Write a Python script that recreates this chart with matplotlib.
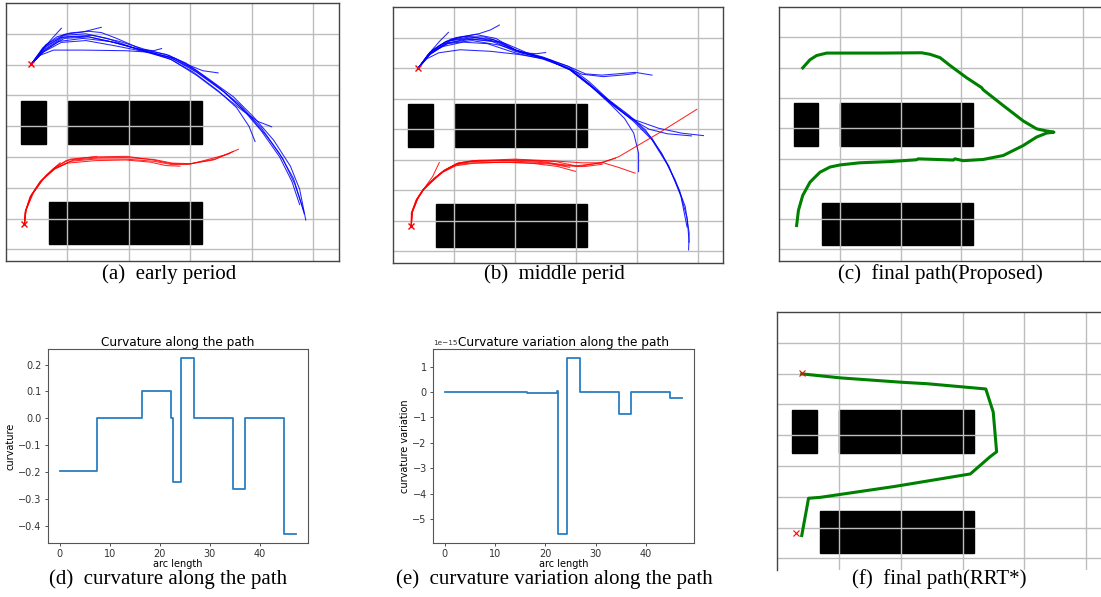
import matplotlib
matplotlib.use("Agg")
import matplotlib.pyplot as plt
from matplotlib.patches import Rectangle

W, H = 1101, 597

# obstacles: (x0, y0, width, height)
obstacles = [(0.49, 3.43, 0.81, 1.40), (2.02, 3.43, 4.35, 1.40), (1.40, 0.16, 4.97, 1.38)]
start_top = (0.81, 6.01)
start_bottom = (0.60, 0.83)

# (a) early period
blue_a = [
    [(0.81, 6.0), (1.2, 6.55), (1.65, 6.9), (2.1, 7.03), (2.7, 7.08), (3.1, 7.04), (3.6, 6.85), (4.45, 6.48), (5.2, 6.33), (5.85, 6.05), (6.5, 5.6), (7.4, 4.95), (8.05, 4.3), (8.7, 3.55), (9.25, 2.7), (9.55, 1.95), (9.75, 0.95)],
    [(0.81, 6.0), (1.3, 6.6), (1.9, 6.95), (2.6, 7.0), (3.3, 6.85), (4.4, 6.45), (5.3, 6.25), (6.0, 5.9), (6.8, 5.35), (7.6, 4.7), (8.3, 3.95), (8.9, 3.1), (9.35, 2.3), (9.6, 1.5), (9.7, 1.15)],
    [(0.81, 6.0), (1.1, 6.3), (1.55, 6.47), (2.5, 6.47), (3.9, 6.45), (4.7, 6.4), (5.5, 6.2), (6.2, 5.8), (7.0, 5.2), (7.7, 4.55), (8.3, 3.85), (8.9, 3.0), (9.3, 2.2), (9.55, 1.45)],
    [(0.81, 6.0), (1.2, 6.4), (1.8, 6.72), (2.6, 6.78), (3.6, 6.6), (4.5, 6.42), (5.3, 6.2), (6.1, 5.75), (6.9, 5.15), (7.5, 4.6), (7.9, 4.0), (8.1, 3.5)],
    [(0.81, 6.0), (1.3, 6.5), (1.9, 6.85), (2.7, 6.9), (3.6, 6.7), (4.5, 6.45), (5.4, 6.15), (6.2, 5.65), (7.0, 5.05), (7.7, 4.5), (8.2, 4.15), (8.64, 3.98)],
    [(0.81, 6.0), (1.25, 6.5), (1.9, 6.9), (2.8, 6.95), (3.7, 6.75), (4.5, 6.5), (5.3, 6.3), (5.9, 6.0), (6.4, 5.8), (6.9, 5.73)],
    [(0.81, 6.0), (1.15, 6.45), (1.5, 6.85), (1.8, 7.18)],
    [(0.81, 6.0), (1.3, 6.65), (1.9, 6.98), (2.5, 7.06), (3.1, 7.21)],
    [(0.81, 6.0), (1.2, 6.4), (1.7, 6.75), (2.5, 6.85), (3.4, 6.75), (4.3, 6.5), (4.8, 6.45), (5.06, 6.52)],
    [(0.81, 6.0), (1.25, 6.55), (1.8, 6.88), (2.6, 6.92), (3.5, 6.72), (4.5, 6.45), (5.4, 6.2), (6.2, 5.75), (7.1, 5.1), (7.9, 4.35), (8.5, 3.65), (9.0, 2.95), (9.4, 2.1), (9.68, 1.25)],
]
red_a = [
    [(0.6, 0.83), (0.62, 1.21), (0.78, 1.7), (1.1, 2.19), (1.54, 2.62), (1.97, 2.89), (2.84, 3.0), (3.92, 3.02), (4.79, 2.9), (5.33, 2.79), (5.88, 2.76), (6.74, 2.9), (7.56, 3.25)],
    [(0.6, 0.83), (0.64, 1.25), (0.82, 1.75), (1.15, 2.23), (1.6, 2.64), (2.1, 2.86), (2.9, 2.93), (3.9, 2.93), (4.8, 2.86), (5.4, 2.75), (6.0, 2.77), (6.7, 2.95), (7.28, 3.11)],
    [(0.6, 0.83), (0.63, 1.22), (0.8, 1.72), (1.12, 2.2), (1.56, 2.6), (2.0, 2.8), (2.9, 2.88), (3.9, 2.9), (4.7, 2.83), (5.2, 2.72), (5.66, 2.7)],
    [(0.6, 0.83), (0.65, 1.27), (0.85, 1.78), (1.2, 2.28), (1.65, 2.7), (2.1, 2.93), (2.95, 3.01)],
    [(0.6, 0.83), (0.64, 1.25), (0.83, 1.76), (1.17, 2.25), (1.6, 2.62), (2.2, 2.9), (3.0, 2.97), (3.9, 2.98), (4.8, 2.92), (5.4, 2.8), (6.0, 2.78), (6.8, 2.93), (7.4, 3.18)],
    [(0.6, 0.83), (0.66, 1.3), (0.9, 1.85), (1.3, 2.4), (1.76, 2.81)],
]

# (b) middle period
blue_b = [
    [(0.82, 5.99), (1.14, 6.43), (1.53, 6.75), (2.07, 7.0), (2.72, 7.1), (3.38, 6.97), (4.03, 6.59), (4.9, 6.37), (5.77, 6.05), (6.43, 5.56), (7.08, 4.96), (7.73, 4.47), (8.28, 3.98), (8.82, 3.21), (9.26, 2.34), (9.59, 1.47), (9.72, 0.6), (9.7, 0.05)],
    [(0.82, 5.99), (1.2, 6.5), (1.7, 6.85), (2.3, 7.03), (3.0, 7.02), (3.7, 6.8), (4.4, 6.5), (5.2, 6.25), (5.9, 5.9), (6.6, 5.35), (7.3, 4.75), (7.9, 4.25), (8.5, 3.65), (9.0, 2.85), (9.4, 2.0), (9.65, 1.1), (9.72, 0.3)],
    [(0.82, 5.99), (1.1, 6.3), (1.5, 6.5), (2.2, 6.6), (3.2, 6.55), (4.1, 6.45), (5.0, 6.3), (5.8, 5.95), (6.5, 5.4), (7.2, 4.85), (7.9, 4.3), (8.5, 3.7), (9.05, 2.8), (9.45, 1.8), (9.65, 0.8)],
    [(0.82, 5.99), (1.2, 6.45), (1.7, 6.8), (2.4, 6.95), (3.2, 6.9), (4.0, 6.55), (4.9, 6.35), (5.77, 6.05), (6.32, 5.81), (6.86, 5.77), (7.95, 5.86), (8.5, 5.77)],
    [(0.82, 5.99), (1.15, 6.4), (1.6, 6.7), (2.3, 6.85), (3.1, 6.8), (4.0, 6.5), (4.9, 6.3), (5.6, 6.05), (6.2, 5.8), (6.9, 5.72), (7.6, 5.78), (7.95, 5.82)],
    [(0.82, 5.99), (1.2, 6.5), (1.75, 6.88), (2.5, 7.02), (3.3, 6.93), (4.05, 6.58), (4.9, 6.33), (5.77, 6.0), (6.43, 5.5), (7.08, 4.9), (7.6, 4.5), (7.95, 4.3), (8.72, 4.03), (9.48, 3.87), (10.19, 3.79)],
    [(0.82, 5.99), (1.3, 6.55), (1.9, 6.9), (2.7, 7.0), (3.5, 6.85), (4.2, 6.5), (5.0, 6.3), (5.8, 5.95), (6.5, 5.4), (7.2, 4.8), (7.8, 4.35), (8.4, 4.0), (9.0, 3.85), (9.8, 3.78)],
    [(0.82, 5.99), (1.2, 6.45), (1.8, 6.82), (2.6, 6.95), (3.4, 6.85), (4.1, 6.55), (5.0, 6.3), (5.8, 5.95), (6.5, 5.4), (7.1, 4.85), (7.6, 4.35), (7.9, 3.87), (8.06, 3.21), (8.06, 2.61)],
    [(0.82, 5.99), (1.2, 6.5), (1.55, 6.9), (1.82, 7.17)],
    [(0.82, 5.99), (1.3, 6.6), (1.9, 6.95), (2.83, 7.13), (3.2, 7.25), (3.49, 7.41)],
    [(0.82, 5.99), (1.25, 6.5), (1.8, 6.8), (2.6, 6.9), (3.5, 6.75), (4.3, 6.5), (4.7, 6.47), (5.01, 6.51)],
]
red_b = [
    [(0.6, 0.82), (0.6, 1.25), (0.76, 1.69), (0.98, 2.02), (1.31, 2.34), (1.63, 2.61), (2.07, 2.85), (2.5, 2.94), (4.03, 3.0), (5.34, 2.94), (6.0, 2.8), (6.86, 2.9), (7.41, 3.1), (8.72, 3.87), (9.97, 4.65)],
    [(0.6, 0.82), (0.62, 1.28), (0.8, 1.72), (1.02, 2.05), (1.35, 2.38), (1.68, 2.65), (2.1, 2.88), (2.6, 2.97), (4.0, 3.02), (5.3, 2.96), (6.2, 2.9), (6.9, 2.9), (7.4, 2.75), (7.95, 2.56)],
    [(0.6, 0.82), (0.61, 1.24), (0.77, 1.68), (0.99, 2.0), (1.3, 2.3), (1.62, 2.58), (2.05, 2.8), (2.6, 2.88), (3.6, 2.92), (4.6, 2.88), (5.4, 2.78), (5.99, 2.62)],
    [(0.6, 0.82), (0.63, 1.27), (0.8, 1.7), (1.0, 2.03), (1.33, 2.36), (1.66, 2.63), (2.1, 2.87), (2.7, 2.95), (3.8, 2.98), (4.8, 2.95), (5.5, 2.85), (6.1, 2.78), (6.8, 2.9), (7.3, 3.05)],
    [(0.6, 0.82), (0.62, 1.26), (0.79, 1.7), (1.0, 2.04), (1.34, 2.38), (1.7, 2.67), (2.15, 2.9), (2.8, 2.98), (3.9, 2.96), (5.0, 2.9), (5.7, 2.8), (6.3, 2.78), (6.86, 2.85)],
    [(0.6, 0.82), (0.64, 1.3), (0.82, 1.75), (1.05, 2.1), (1.3, 2.45), (1.52, 2.91)],
    [(0.6, 0.82), (0.61, 1.25), (0.78, 1.69), (0.99, 2.02), (1.32, 2.35), (1.64, 2.62), (2.1, 2.84), (2.6, 2.9), (3.9, 2.92), (5.2, 2.86), (5.8, 2.75)],
]

# (c) final path, proposed
path_c = [(0.58, 0.79), (0.64, 1.29), (0.78, 1.78), (1.02, 2.22), (1.35, 2.55), (1.68, 2.72), (2.01, 2.79),
          (2.66, 2.86), (3.65, 2.90), (4.53, 2.96), (4.58, 2.99), (5.19, 2.97), (5.74, 2.95), (5.79, 2.99),
          (6.06, 2.93), (6.72, 2.97), (7.38, 3.10), (8.04, 3.43), (8.48, 3.71), (8.81, 3.84), (9.05, 3.87),
          (8.81, 3.91), (8.48, 3.98), (8.04, 4.24), (7.38, 4.75), (6.72, 5.27), (6.67, 5.34), (6.17, 5.67),
          (5.63, 6.07), (5.30, 6.33), (4.97, 6.44), (4.69, 6.49), (3.43, 6.48), (1.57, 6.48), (1.24, 6.40),
          (1.02, 6.26), (0.78, 5.99)]

# (f) final path, RRT*
path_f = [(0.80, 5.99), (2.05, 5.86), (4.0, 5.72), (4.86, 5.67), (6.75, 5.50), (6.99, 4.75), (7.10, 3.46),
          (6.89, 3.30), (6.25, 2.74), (3.78, 2.33), (1.40, 1.98), (1.02, 1.95), (0.80, 0.74)]

# (d), (e) curvature profiles
arc_length = [0, 7.5, 16.4, 22.3, 22.6, 24.3, 26.9, 34.6, 37.1, 44.8, 47.25]
curvature = [-0.195, 0.0, 0.1, 0.0, -0.238, 0.225, 0.0, -0.263, 0.0, -0.43, -0.43]
curv_variation = [0.0, 0.01e-15, -0.04e-15, 0.04e-15, -5.6e-15, 1.35e-15, 0.0, -0.87e-15, 0.0, -0.22e-15, -0.22e-15]

captions = ["(a)  early period", "(b)  middle perid", "(c)  final path(Proposed)",
            "(d)  curvature along the path", "(e)  curvature variation along the path", "(f)  final path(RRT*)"]


def px_axes(fig, left, top, right, bottom):
    return fig.add_axes([left / W, 1 - bottom / H, (right - left) / W, (bottom - top) / H])


def map_axes(ax):
    ax.set_xlim(0, 10.83)
    ax.set_ylim(-0.38, 8.0)
    ax.set_xticks([2, 4, 6, 8, 10])
    ax.set_yticks(range(8))
    ax.tick_params(length=0, labelbottom=False, labelleft=False)
    ax.grid(True, color="#bdbdbd", lw=1.0)
    ax.set_axisbelow(True)
    for s in ax.spines.values():
        s.set_color("#444444")
        s.set_linewidth(1.0)
    for (x0, y0, w, h) in obstacles:
        ax.add_patch(Rectangle((x0, y0), w, h, color="black", zorder=0.3))


def draw_paths(ax, paths, color):
    for p in paths:
        xs = [q[0] for q in p]
        ys = [q[1] for q in p]
        ax.plot(xs, ys, color=color, lw=0.75, alpha=0.85)


fig = plt.figure(figsize=(W / 100, H / 100), dpi=100)

ax_a = px_axes(fig, 6, 3, 339, 261)
map_axes(ax_a)
draw_paths(ax_a, blue_a, "blue")
draw_paths(ax_a, red_a, "red")
ax_a.plot(*zip(start_top, start_bottom), ls="none", marker="x", color="red", ms=4.5, mew=1.0)

ax_b = px_axes(fig, 393, 7, 723, 263)
map_axes(ax_b)
draw_paths(ax_b, blue_b, "blue")
draw_paths(ax_b, red_b, "red")
ax_b.plot(*zip(start_top, start_bottom), ls="none", marker="x", color="red", ms=4.5, mew=1.0)

ax_c = px_axes(fig, 779, 7, 1108, 261)
map_axes(ax_c)
ax_c.plot([q[0] for q in path_c], [q[1] for q in path_c], color="green", lw=2.2)

ax_f = px_axes(fig, 777, 312, 1112, 570)
map_axes(ax_f)
ax_f.spines["bottom"].set_visible(False)
ax_f.plot([q[0] for q in path_f], [q[1] for q in path_f], color="green", lw=2.2)
ax_f.plot(*zip(start_top, start_bottom), ls="none", marker="x", color="red", ms=4.5, mew=0.8)


def profile_axes(ax, ys, title, ylabel):
    ax.plot(arc_length, ys, drawstyle="steps-post", color="#2a7fc1", lw=1.3)
    ax.set_title(title, fontsize=8.7, pad=2)
    ax.set_xlabel("arc length", fontsize=7, labelpad=0)
    ax.set_ylabel(ylabel, fontsize=7, labelpad=2)
    ax.set_xticks([0, 10, 20, 30, 40])
    ax.tick_params(labelsize=7, length=2.5, width=0.6, pad=2, colors="#333333")
    ax.yaxis.get_offset_text().set_fontsize(5.2)
    for s in ax.spines.values():
        s.set_color("#555555")
        s.set_linewidth(0.8)


ax_d = px_axes(fig, 48, 349, 308, 543)
profile_axes(ax_d, curvature, "Curvature along the path", "curvature")

ax_e = px_axes(fig, 433, 349, 694, 543)
profile_axes(ax_e, curv_variation, "Curvature variation along the path", "curvature variation")

cap_pos = [(169, 274), (554, 274), (940, 274), (168, 579), (554, 579), (939, 579)]
for (cx, cy), txt in zip(cap_pos, captions):
    fig.text(cx / W, 1 - cy / H, txt, ha="center", va="center", fontsize=15, family="Liberation Serif")

fig.savefig("out.png", dpi=100)
